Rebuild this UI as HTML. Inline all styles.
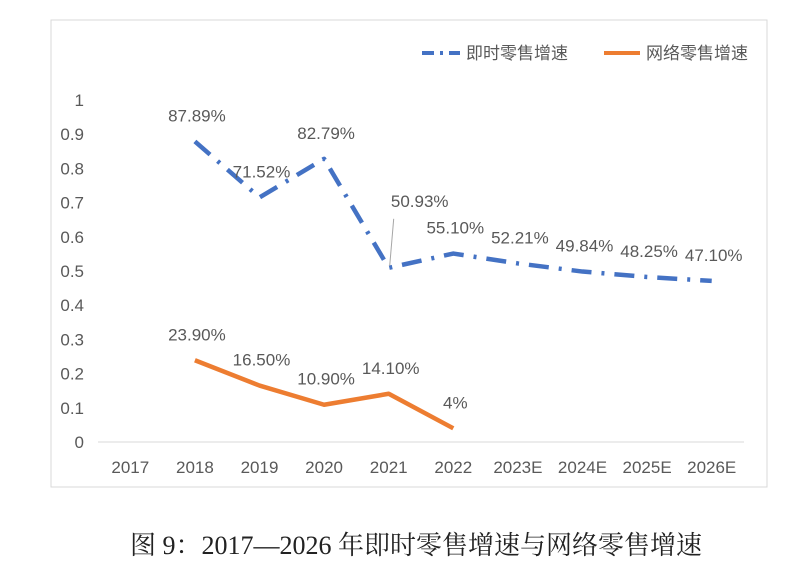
<!DOCTYPE html>
<html><head><meta charset="utf-8">
<style>
body{margin:0;background:#fff;width:800px;height:580px;overflow:hidden}
svg text{font-family:"Liberation Sans","Noto Sans CJK SC",sans-serif}
</style></head>
<body>
<svg id="chart" width="800" height="580" xmlns="http://www.w3.org/2000/svg">
<rect x="51" y="20" width="716" height="467" fill="#fff" stroke="#d9d9d9" stroke-width="1"/>
<g id="yaxis"></g>
<g id="xaxis"></g>
<g id="series"></g>
<g>
 <line x1="422" y1="53" x2="460" y2="53" stroke="#4472c4" stroke-width="4" stroke-dasharray="12,6,3,6"/>
 <text x="466" y="59" font-size="17" fill="#595959">即时零售增速</text>
 <line x1="604" y1="53" x2="640" y2="53" stroke="#ed7d31" stroke-width="4"/>
 <text x="646" y="59" font-size="17" fill="#595959">网络零售增速</text>
</g>
<text x="416" y="554" text-anchor="middle" font-size="26" fill="#222" style="font-family:'Liberation Serif','Noto Serif CJK SC',serif">图 9：2017—2026 年即时零售增速与网络零售增速</text>
</svg>
<script>
const categories=["2017","2018","2019","2020","2021","2022","2023E","2024E","2025E","2026E"];
const instantValues=[null,0.8789,0.7152,0.8279,0.5093,0.5510,0.5221,0.4984,0.4825,0.4710];
const instantLabels=["","87.89%","71.52%","82.79%","50.93%","55.10%","52.21%","49.84%","48.25%","47.10%"];
const onlineValues=[null,0.239,0.165,0.109,0.141,0.04,null,null,null,null];
const onlineLabels=["","23.90%","16.50%","10.90%","14.10%","4%","","","",""];
const yTicks=[0,0.1,0.2,0.3,0.4,0.5,0.6,0.7,0.8,0.9,1];
const yTickLabels=["0","0.1","0.2","0.3","0.4","0.5","0.6","0.7","0.8","0.9","1"];
const NS="http://www.w3.org/2000/svg";
const x0=98,step=64.6,yBase=442,yTop=100;
function xs(i){return x0+(i+0.5)*step;}
function ys(v){return yBase-(v)*(yBase-yTop);}
function mk(t,a,p){const e=document.createElementNS(NS,t);for(const k in a)e.setAttribute(k,a[k]);p.appendChild(e);return e;}
const ya=document.getElementById('yaxis'),xa=document.getElementById('xaxis'),se=document.getElementById('series');
yTicks.forEach((v,i)=>{const t=mk('text',{x:84,y:ys(v)+6,'text-anchor':'end','font-size':17,fill:'#595959'},ya);


t.textContent=yTickLabels[i];});
const ax=mk('line',{x1:x0,y1:yBase,x2:x0+step*categories.length,y2:yBase,stroke:'#d9d9d9','stroke-width':1},xa);


categories.forEach((c,i)=>{const t=mk('text',{x:xs(i),y:473,'text-anchor':'middle','font-size':17,fill:'#595959'},xa);


t.textContent=c;});
function drawSeries(vals,labels,color,dash,name,leaderIdx){
 const pts=[];vals.forEach((v,i)=>{if(v!=null)pts.push([xs(i),ys(v),i]);});
 const p=mk('polyline',{points:pts.map(q=>q[0]+','+q[1]).join(' '),fill:'none',stroke:color,'stroke-width':4.5,'stroke-linejoin':'round'},se);
 if(dash)p.setAttribute('stroke-dasharray',dash);
 
 
 pts.forEach(q=>{let lx=q[0]+2,ly=q[1]-20;
  if(q[2]===leaderIdx){lx=q[0]+31;ly=q[1]-61;
   const l=mk('line',{x1:q[0]+5,y1:ly+12,x2:q[0]+1,y2:q[1]-2,stroke:'#a6a6a6','stroke-width':1},se);
   
   }
  const t=mk('text',{x:lx,y:ly,'text-anchor':'middle','font-size':17,fill:'#595959'},se);
  
  
  t.textContent=labels[q[2]];});
}
drawSeries(instantValues,instantLabels,'#4472c4','20,10,3,10','instant-retail',4);
drawSeries(onlineValues,onlineLabels,'#ed7d31',null,'online-retail',-1);
</script>
</body></html>
